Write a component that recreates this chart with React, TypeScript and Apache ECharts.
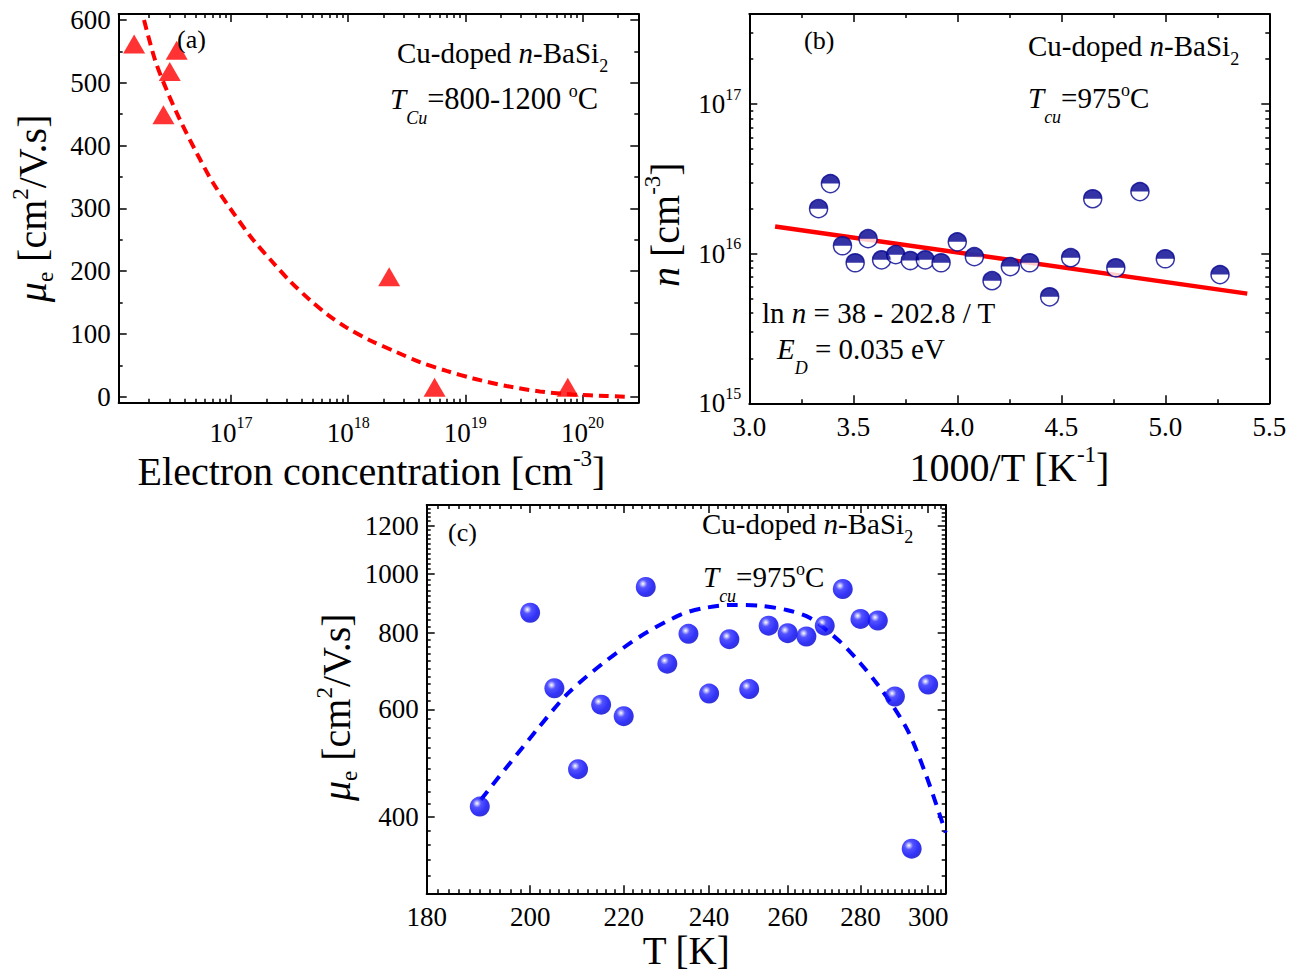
import React, { useEffect, useRef } from "react";
import * as echarts from "echarts";

const FONT = "Liberation Serif";
const BLACK = "#000000";
const RED = "#ff0000";
const NAVY = "#000090";
const BLUE = "#0000ff";

// ---------- Panel (a): mobility vs electron concentration ----------
const aConcentration = [1.49e16, 2.65e16, 3.0e16, 3.44e16, 2.24e18, 5.47e18, 7.5e19];
const aMobility = [562, 449, 518, 552, 191, 15, 15];
const aFitConcentration = [
  1.81e16, 2.25e16, 2.83e16, 3.67e16, 5.1e16, 7.06e16, 1.05e17, 1.55e17, 2.3e17, 3.19e17, 4.72e17,
  6.76e17, 9.7e17, 1.53e18, 2.59e18, 4.1e18, 6.92e18, 1.17e19, 2.25e19, 4.33e19, 8.34e19, 1.6e20, 2.3e20,
];
const aFitMobility = [
  600, 536, 488, 441, 388, 340, 292.5, 249.5, 213, 184, 154, 130, 110, 90, 71, 55, 41, 29, 17, 8.3, 3.5, 1.1, 0,
];
const aXMajorTicks = [1e17, 1e18, 1e19, 1e20];
const aYMajorTicks = [0, 100, 200, 300, 400, 500, 600];
const aYMinorTicks = [50, 150, 250, 350, 450, 550];

// ---------- Panel (b): n vs 1000/T ----------
const bInvT = [
  3.333, 3.39, 3.448, 3.509, 3.571, 3.636, 3.704, 3.774, 3.846, 3.922, 4.0, 4.082, 4.167, 4.255, 4.348,
  4.444, 4.545, 4.651, 4.762, 4.878, 5.0, 5.263,
];
const bN = [
  2.0e16, 2.94e16, 1.13e16, 8.7e15, 1.26e16, 9.1e15, 9.85e15, 9.0e15, 9.1e15, 8.7e15, 1.2e16, 9.55e15,
  6.6e15, 8.2e15, 8.7e15, 5.15e15, 9.4e15, 2.33e16, 8.05e15, 2.6e16, 9.25e15, 7.25e15,
];
const bFitInvT = [3.124, 5.394];
const bFitN = [1.52e16, 5.41e15];
const bXMajorTicks = [3.0, 3.5, 4.0, 4.5, 5.0, 5.5];
const bXMinorTicks = [3.25, 3.75, 4.25, 4.75, 5.25];
const bYMajorTicks = [1e15, 1e16, 1e17];

// ---------- Panel (c): mobility vs T ----------
const cT = [190, 200, 205, 210, 215, 220, 225, 230, 235, 240, 245, 250, 255, 260, 265, 270, 275, 280, 285, 290, 295, 300];
const cMobility = [416, 864, 650, 479, 611, 585, 952, 713, 798, 637, 782, 648, 823, 800, 790, 823, 945, 844, 839, 630, 355, 659];
const cFitT = [
  190.2, 201.4, 207.9, 215.5, 223.7, 233.0, 238.6, 246.0, 252.8, 259.7, 266.0, 274.2, 279.9, 284.6, 289.5,
  294.2, 299.5, 305.4,
];
const cFitMobility = [
  427, 556, 638, 715, 790, 857, 879, 890, 887, 873, 847, 775, 715, 663, 607, 549, 466, 377,
];
const cXMajorTicks = [180, 200, 220, 240, 260, 280, 300];
const cYMajorTicks = [400, 600, 800, 1000, 1200];

// ---------- helpers for minor tick positions ----------
function logMinorTicks(minExp: number, maxExp: number, lo: number, hi: number): number[] {
  const out: number[] = [];
  for (let e = minExp; e <= maxExp; e++) {
    for (let m = 2; m <= 9; m++) {
      const v = m * Math.pow(10, e);
      if (v >= lo && v <= hi) out.push(v);
    }
  }
  return out;
}
function stepMinorTicks(lo: number, hi: number, step: number, majors: number[]): number[] {
  const out: number[] = [];
  for (let v = lo; v <= hi + 1e-9; v += step) {
    const r = Math.round(v * 1000) / 1000;
    if (!majors.includes(r)) out.push(r);
  }
  return out;
}

const zip = (xs: number[], ys: number[]) => xs.map((x, i) => [x, ys[i]]);

const LABEL_SIZE = 27;
const labelRich = {
  n: { fontFamily: FONT, fontSize: LABEL_SIZE, color: BLACK },
  b: { fontFamily: FONT, fontSize: LABEL_SIZE, color: BLACK },
  s: { fontFamily: FONT, fontSize: 16, color: BLACK, padding: [0, 0, 20, 0] },
};
const powerFmt = (v: number) => `{b|10}{s|${Math.round(Math.log10(v))}}`;
const intFmt = (v: number) => `{n|${Math.round(v)}}`;
const oneDecFmt = (v: number) => `{n|${v.toFixed(1)}}`;

const NAME_SIZE = 40;
const nameRich = {
  t: { fontFamily: FONT, fontSize: NAME_SIZE, color: BLACK },
  tk: { fontFamily: FONT, fontSize: 39, color: BLACK, lineHeight: 38 },
  i: { fontFamily: FONT, fontSize: NAME_SIZE, color: BLACK, fontStyle: "italic" },
  sup: { fontFamily: FONT, fontSize: 23, color: BLACK, padding: [0, 0, 25, 0] },
  sub: { fontFamily: FONT, fontSize: 23, color: BLACK, padding: [25, 0, 0, 0] },
};

type AxisSpec = {
  dim: "x" | "y";
  grid: number;
  type: "value" | "log";
  min: number;
  max: number;
  major: number[];
  minor: number[];
  fmt: (v: number) => string;
  margin: number;
  name: string;
  nameGap: number;
  nameRotate?: number;
  namePadding?: number[];
};

function buildAxes(o: AxisSpec): any[] {
  const pos = o.dim === "x" ? ["bottom", "top"] : ["left", "right"];
  const mk = (position: string, ticks: number[], len: number, line: boolean, main: boolean) => {
    const ax: any = {
      type: o.type,
      gridIndex: o.grid,
      min: o.min,
      max: o.max,
      position,
      splitLine: { show: false },
      minorTick: { show: false },
      axisLine: { show: line, onZero: false, lineStyle: { color: BLACK, width: 2 } },
      axisTick: { show: true, inside: true, length: len, customValues: ticks, lineStyle: { color: BLACK, width: 1.5 } },
      axisLabel: main
        ? {
            show: true,
            customValues: o.major,
            formatter: o.fmt,
            margin: o.margin,
            color: BLACK,
            fontFamily: FONT,
            fontSize: LABEL_SIZE,
            rich: labelRich,
          }
        : { show: false },
    };
    if (o.type === "log") ax.logBase = 10;
    if (main) {
      ax.name = o.name;
      ax.nameLocation = "middle";
      ax.nameGap = o.nameGap;
      if (o.nameRotate !== undefined) ax.nameRotate = o.nameRotate;
      ax.nameTextStyle = {
        fontFamily: FONT,
        fontSize: NAME_SIZE,
        color: BLACK,
        rich: nameRich,
        padding: o.namePadding || 0,
      };
    }
    return ax;
  };
  return [
    mk(pos[0], o.major, 8, true, true),
    mk(pos[0], o.minor, 4, false, false),
    mk(pos[1], o.major, 8, true, false),
    mk(pos[1], o.minor, 4, false, false),
  ];
}

const ANN = 29;
const annRich = {
  t: { fontFamily: FONT, fontSize: ANN, fill: BLACK, color: BLACK },
  t2: { fontFamily: FONT, fontSize: 30.5, fill: BLACK, color: BLACK },
  i: { fontFamily: FONT, fontSize: ANN, fill: BLACK, color: BLACK, fontStyle: "italic" },
  sub: { fontFamily: FONT, fontSize: 18, fill: BLACK, color: BLACK, padding: [26, 0, 0, 0] },
  subi: { fontFamily: FONT, fontSize: 18, fill: BLACK, color: BLACK, fontStyle: "italic", padding: [38, 0, 0, 0] },
  sup: { fontFamily: FONT, fontSize: 18, fill: BLACK, color: BLACK, padding: [0, 0, 16, 0] },
  p: { fontFamily: FONT, fontSize: 26, fill: BLACK, color: BLACK },
};

const txt = (x: number, y: number, text: string) => ({
  type: "text",
  x,
  y,
  z: 100,
  style: {
    text,
    rich: annRich,
    fontFamily: FONT,
    fontSize: ANN,
    fill: BLACK,
    align: "left",
    verticalAlign: "middle",
    textAlign: "left",
    textVerticalAlign: "middle",
  },
});

const sphereColor = {
  type: "radial",
  x: 0.36,
  y: 0.34,
  r: 0.7,
  colorStops: [
    { offset: 0, color: "#ffffff" },
    { offset: 0.1, color: "#b8b8ff" },
    { offset: 0.3, color: "#2828ff" },
    { offset: 0.7, color: "#0000f8" },
    { offset: 1, color: "#0000c8" },
  ],
};

export default function App() {
  const ref = useRef<HTMLDivElement>(null);

  useEffect(() => {
    if (!ref.current) return;
    const chart = echarts.init(ref.current, null, { renderer: "svg" });

    const xAxes = [
      ...buildAxes({
        dim: "x", grid: 0, type: "log", min: 1.1e16, max: 3e20,
        major: aXMajorTicks, minor: logMinorTicks(16, 20, 1.1e16, 3e20),
        fmt: powerFmt, margin: 12,
        name: "{t|Electron concentration [cm}{sup|-3}{t|]}", nameGap: 42, namePadding: [0, 14, 0, 0],
      }),
      ...buildAxes({
        dim: "x", grid: 1, type: "value", min: 3.0, max: 5.5,
        major: bXMajorTicks, minor: bXMinorTicks,
        fmt: oneDecFmt, margin: 10,
        name: "{t|1000/T [K}{sup|-1}{t|]}", nameGap: 40,
      }),
      ...buildAxes({
        dim: "x", grid: 2, type: "log", min: 180, max: 305.4,
        major: cXMajorTicks, minor: stepMinorTicks(180, 304, 2, cXMajorTicks),
        fmt: intFmt, margin: 10,
        name: "{tk|T [K]}", nameGap: 36,
      }),
    ];
    const yAxes = [
      ...buildAxes({
        dim: "y", grid: 0, type: "value", min: -9.6, max: 609.6,
        major: aYMajorTicks, minor: aYMinorTicks,
        fmt: intFmt, margin: 8,
        name: "{i|μ}{sub|e}{t| [cm}{sup|2}{t|/V.s]}", nameGap: 62, nameRotate: 90,
      }),
      ...buildAxes({
        dim: "y", grid: 1, type: "log", min: 1e15, max: 4e17,
        major: bYMajorTicks, minor: logMinorTicks(15, 17, 1e15, 4e17),
        fmt: powerFmt, margin: 8,
        name: "{i|n}{t| [cm}{sup|-3}{t|]}", nameGap: 60, nameRotate: 90, namePadding: [0, 32, 0, 0],
      }),
      ...buildAxes({
        dim: "y", grid: 2, type: "log", min: 300, max: 1297,
        major: cYMajorTicks, minor: stepMinorTicks(300, 1290, 20, cYMajorTicks),
        fmt: intFmt, margin: 8,
        name: "{i|μ}{sub|e}{t| [cm}{sup|2}{t|/V.s]}", nameGap: 62, nameRotate: 90, namePadding: [0, 16, 0, 0],
      }),
    ];

    chart.setOption({
      animation: false,
      backgroundColor: "#ffffff",
      textStyle: { fontFamily: FONT },
      grid: [
        { left: 118.7, top: 14, width: 519.6, height: 388.7, containLabel: false, outerBoundsMode: "none" },
        { left: 749.3, top: 14, width: 520, height: 389.3, containLabel: false, outerBoundsMode: "none" },
        { left: 426.7, top: 505, width: 519, height: 388.3, containLabel: false, outerBoundsMode: "none" },
      ],
      xAxis: xAxes,
      yAxis: yAxes,
      series: [
        {
          type: "line", xAxisIndex: 0, yAxisIndex: 0, z: 2,
          data: zip(aFitConcentration, aFitMobility),
          smooth: 0.3, symbol: "none", showSymbol: false,
          lineStyle: { color: RED, width: 4, type: [10, 6] },
        },
        {
          type: "scatter", xAxisIndex: 0, yAxisIndex: 0, z: 3,
          data: zip(aConcentration, aMobility),
          symbol: "triangle", symbolSize: [22, 19],
          itemStyle: { color: RED },
        },
        {
          type: "line", xAxisIndex: 4, yAxisIndex: 4, z: 2,
          data: zip(bFitInvT, bFitN),
          symbol: "none", showSymbol: false,
          lineStyle: { color: RED, width: 4.5 },
        },
        {
          type: "scatter", xAxisIndex: 4, yAxisIndex: 4, z: 3,
          data: zip(bInvT, bN),
          symbol: "circle", symbolSize: 18,
          itemStyle: { color: "#ffffff", borderColor: NAVY, borderWidth: 1.5 },
        },
        {
          type: "scatter", xAxisIndex: 4, yAxisIndex: 4, z: 4,
          data: zip(bInvT, bN),
          symbol: "path://M0,10 A10,10 0 0 1 20,10 Z", symbolSize: [18, 9], symbolOffset: [0, -4.5],
          itemStyle: { color: NAVY },
        },
        {
          type: "line", xAxisIndex: 8, yAxisIndex: 8, z: 2,
          data: zip(cFitT, cFitMobility),
          smooth: 0.3, symbol: "none", showSymbol: false,
          lineStyle: { color: BLUE, width: 4, type: [11, 8] },
        },
        {
          type: "scatter", xAxisIndex: 8, yAxisIndex: 8, z: 3,
          data: zip(cT, cMobility),
          symbol: "circle", symbolSize: 20,
          itemStyle: { color: sphereColor },
        },
      ],
      graphic: [
        txt(177, 39, "{p|(a)}"),
        txt(397, 53, "{t|Cu-doped }{i|n}{t|-BaSi}{sub|2}"),
        txt(390, 99, "{i|T}{subi|Cu}{t2|=800-1200 }{sup|o}{t2|C}"),
        txt(804, 40, "{p|(b)}"),
        txt(1028, 46, "{t|Cu-doped }{i|n}{t|-BaSi}{sub|2}"),
        txt(1028, 98, "{i|T}{subi|cu}{t|=975}{sup|o}{t|C}"),
        txt(762, 313, "{t|ln }{i|n}{t| = 38 - 202.8 / T}"),
        txt(777, 349, "{i|E}{subi|D}{t| = 0.035 eV}"),
        txt(448, 532, "{p|(c)}"),
        txt(702, 524, "{t|Cu-doped }{i|n}{t|-BaSi}{sub|2}"),
        txt(703, 577, "{i|T}{subi|cu}{t|=975}{sup|o}{t|C}"),
      ],
    });

    return () => chart.dispose();
  }, []);

  return (
    <div
      ref={ref}
      style={{ position: "absolute", left: 0, top: 0, width: 1299, height: 971, background: "#fff" }}
    />
  );
}
